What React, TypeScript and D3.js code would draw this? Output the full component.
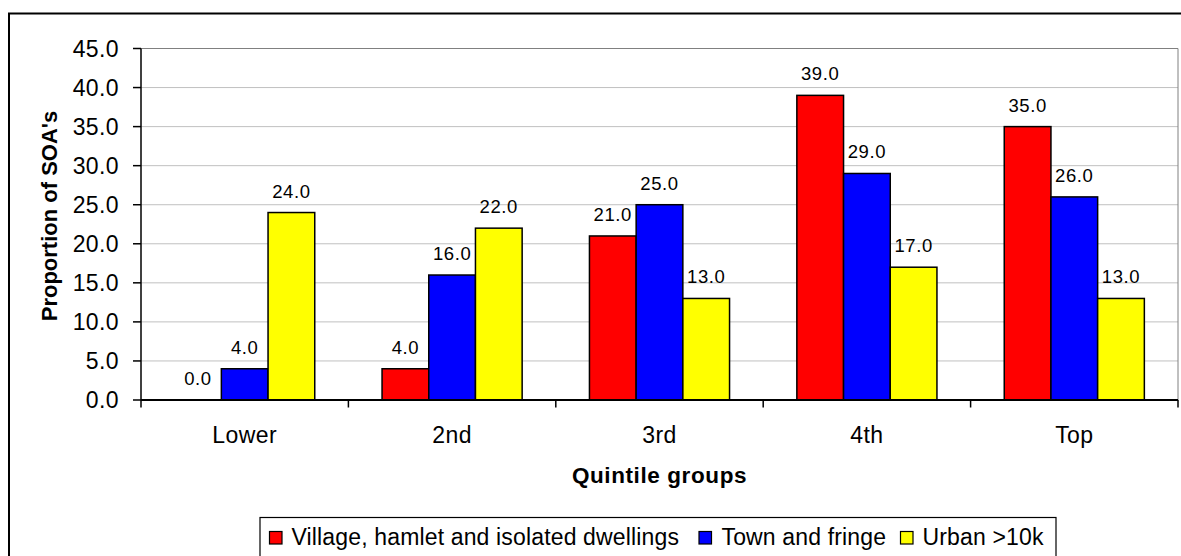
import React from "react";
import * as d3 from "d3";

const categories = ["Lower", "2nd", "3rd", "4th", "Top"];
const seriesNames = ["Village, hamlet and isolated dwellings", "Town and fringe", "Urban >10k"];
const villageValues = [0, 4, 21, 39, 35];
const townValues = [4, 16, 25, 29, 26];
const urbanValues = [24, 22, 13, 17, 13];
const seriesColors = ["#FF0000", "#0000FF", "#FFFF00"];
const yTicks = [0, 5, 10, 15, 20, 25, 30, 35, 40, 45];

const W = 1181;
const H = 556;
const plot = { left: 141, right: 1178, top: 48.5, bottom: 400 };
const font = "Arial, 'Liberation Sans', Helvetica, sans-serif";

export default function App() {
  const series = [villageValues, townValues, urbanValues];

  const x0 = d3.scaleBand<string>().domain(categories).range([plot.left, plot.right]).padding(0);
  const barW = 46.7;
  const x1 = d3
    .scaleBand<number>()
    .domain([0, 1, 2])
    .range([(x0.bandwidth() - barW * 3) / 2, (x0.bandwidth() + barW * 3) / 2])
    .padding(0);
  const y = d3.scaleLinear().domain([0, 45]).range([plot.bottom, plot.top]);

  const boundaries = [...categories.map((c) => x0(c) as number), plot.right];

  // legend layout
  const legendItems = [
    { sw: 269.5, tx: 291.5 },
    { sw: 699, tx: 721.5 },
    { sw: 900.5, tx: 922.5 },
  ];

  return (
    <svg
      width={W}
      height={H}
      style={{ position: "absolute", left: 0, top: 0, background: "#fff" }}
      fontFamily={font}
    >
      {/* chart frame */}
      <rect x={9} y={13.5} width={W + 20} height={H + 20} fill="#fff" stroke="#000" strokeWidth={2} />

      {/* gridlines */}
      {yTicks.slice(1, -1).map((t) => (
        <line key={t} x1={plot.left} x2={plot.right} y1={y(t)} y2={y(t)} stroke="#c0c0c0" strokeWidth={1} />
      ))}
      {/* plot area border (top and right) */}
      <line x1={plot.left} x2={plot.right} y1={y(45)} y2={y(45)} stroke="#808080" strokeWidth={1} />
      <line x1={plot.right} x2={plot.right} y1={plot.top} y2={plot.bottom} stroke="#808080" strokeWidth={1} />

      {/* bars */}
      {categories.map((c, ci) => (
        <g key={c} transform={`translate(${x0(c)},0)`}>
          {series.map((vals, si) => {
            const v = vals[ci];
            const bx = x1(si) as number;
            return (
              <g key={si}>
                {v > 0 && (
                  <rect
                    x={bx}
                    y={y(v)}
                    width={x1.bandwidth()}
                    height={y(0) - y(v)}
                    fill={seriesColors[si]}
                    stroke="#000"
                    strokeWidth={1.5}
                  />
                )}
                <text
                  x={bx + x1.bandwidth() / 2}
                  y={y(v) - 15}
                  textAnchor="middle"
                  fontSize={18.5}
                  letterSpacing={0.6}
                  fill="#000"
                >
                  {v.toFixed(1)}
                </text>
              </g>
            );
          })}
        </g>
      ))}

      {/* y axis */}
      <line x1={plot.left} x2={plot.left} y1={plot.top} y2={plot.bottom} stroke="#000" strokeWidth={1.5} />
      {yTicks.map((t) => (
        <g key={t}>
          <line x1={plot.left - 8} x2={plot.left} y1={y(t)} y2={y(t)} stroke="#000" strokeWidth={1.5} />
          <text x={119} y={y(t) + 8} textAnchor="end" fontSize={23} letterSpacing={0.4} fill="#000">
            {t.toFixed(1)}
          </text>
        </g>
      ))}

      {/* x axis */}
      <line x1={plot.left} x2={plot.right} y1={plot.bottom} y2={plot.bottom} stroke="#000" strokeWidth={2} />
      {boundaries.map((bx, i) => (
        <line key={i} x1={bx} x2={bx} y1={plot.bottom} y2={plot.bottom + 7.5} stroke="#000" strokeWidth={1.5} />
      ))}
      {categories.map((c) => (
        <text
          key={c}
          x={(x0(c) as number) + x0.bandwidth() / 2}
          y={443}
          textAnchor="middle"
          fontSize={23}
          letterSpacing={0.4}
          fill="#000"
        >
          {c}
        </text>
      ))}

      {/* axis titles */}
      <text
        x={(plot.left + plot.right) / 2}
        y={483}
        textAnchor="middle"
        fontSize={22.5}
        fontWeight="bold"
        letterSpacing={0.6}
        fill="#000"
      >
        Quintile groups
      </text>
      <text
        transform={`translate(57,216) rotate(-90)`}
        textAnchor="middle"
        fontSize={22}
        fontWeight="bold"
        fill="#000"
      >
        Proportion of SOA's
      </text>

      {/* legend */}
      <rect x={260} y={517.5} width={796} height={60} fill="#fff" stroke="#000" strokeWidth={1.2} />
      {seriesNames.map((name, i) => (
        <g key={name}>
          <rect
            x={legendItems[i].sw}
            y={531.5}
            width={12.5}
            height={12.5}
            fill={seriesColors[i]}
            stroke="#000"
            strokeWidth={1.2}
          />
          <text x={legendItems[i].tx} y={545} fontSize={23} letterSpacing={0.15} fill="#000">
            {name}
          </text>
        </g>
      ))}
    </svg>
  );
}
